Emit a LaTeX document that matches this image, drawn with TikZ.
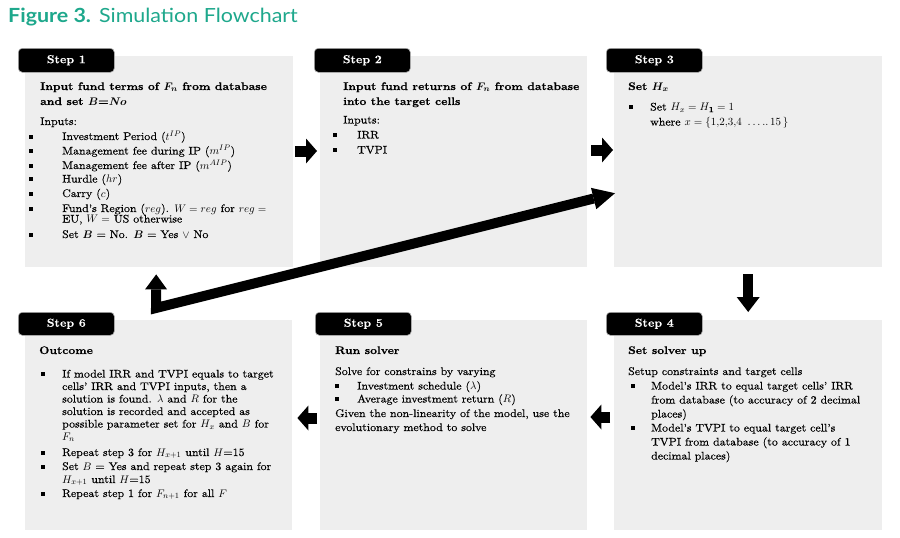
\documentclass[tikz,border=0pt]{standalone}
\usepackage{fontspec}
\setmainfont{Latin Modern Roman}[FakeStretch=1.08, UprightFeatures={FakeBold=0.4}, BoldFeatures={FakeBold=0.3}]
\newfontfamily\titlefont{Lato}[FakeStretch=1.1]
\usetikzlibrary{arrows.meta,calc}
\definecolor{teal1}{RGB}{30,168,140}
\definecolor{boxgray}{RGB}{238,238,238}
\begin{document}
\begin{tikzpicture}[x=1pt,y=-1pt,
  box/.style={fill=boxgray, draw=none, anchor=north west, inner sep=0pt},
  lab/.style={fill=black, draw=gray!60, line width=0.6pt, rounded corners=4pt,
    minimum width=96pt, minimum height=24pt, inner sep=0pt, text=white,
    font=\fontsize{11.5}{11.5}\selectfont\bfseries, anchor=north west},
  txt/.style={anchor=base west, inner sep=0pt, font=\fontsize{11}{11}\selectfont},
  hdg/.style={anchor=base west, inner sep=0pt, font=\fontsize{11}{11}\selectfont\bfseries},
  bul/.style={fill=black, minimum size=3.6pt, inner sep=0pt, yshift=3.3pt},
  blk/.style={line width=11pt, -{Triangle[length=11pt,width=25pt,line width=0pt]}},
  fat/.style={line width=10pt, line join=miter}
]
\fill[white] (0,0) rectangle (900,538);
\useasboundingbox (0,0) rectangle (900,538);

\node[anchor=base west, inner sep=0pt, text=teal1, font=\titlefont\fontsize{19.5}{19.5}\selectfont] (title) at (8,23) {\textbf{Figure 3.}\hspace{8pt}Simulation Flowchart};

% boxes
\node[box, minimum width=268pt, minimum height=211pt] (s1) at (25,56) {};
\node[box, minimum width=267pt, minimum height=211pt] (s2) at (320,56) {};
\node[box, minimum width=268pt, minimum height=211pt] (s3) at (614,56) {};
\node[box, minimum width=267pt, minimum height=210pt] (s6) at (25,320) {};
\node[box, minimum width=267pt, minimum height=210pt] (s5) at (320,320) {};
\node[box, minimum width=268pt, minimum height=210pt] (s4) at (614,320) {};

% labels
\node[lab] (l1) at (18,48) {Step 1};
\node[lab] (l2) at (314,48) {Step 2};
\node[lab] (l3) at (606,48) {Step 3};
\node[lab, minimum height=23pt] (l6) at (18,312) {Step 6};
\node[lab, minimum height=23pt] (l5) at (315,312) {Step 5};
\node[lab, minimum height=23pt] (l4) at (606,312) {Step 4};

% Step 1
\node[hdg] (a1) at (40,90) {Input fund terms of {\boldmath$F_n$} from database};
\node[hdg] (a2) at (40,105) {and set {\boldmath$B$}=\textit{No}};
\node[txt] (a3) at (40,125) {Inputs:};
\node[bul] (ab1) at (31,140) {}; \node[txt] (ai1) at (62,140) {Investment Period ($t^{IP}$)};
\node[bul] (ab2) at (31,154.5) {}; \node[txt] (ai2) at (62,154.5) {Management fee during IP ($m^{IP}$)};
\node[bul] (ab3) at (31,169) {}; \node[txt] (ai3) at (62,169) {Management fee after IP ($m^{AIP}$)};
\node[bul] (ab4) at (31,182.5) {}; \node[txt] (ai4) at (62,182.5) {Hurdle ($hr$)};
\node[bul] (ab5) at (31,197) {}; \node[txt] (ai5) at (62,197) {Carry ($c$)};
\node[bul] (ab6) at (31,212) {}; \node[txt] (ai6) at (62,212) {Fund's Region ($reg$). $W = reg$ for $reg =$};
\node[txt] (ai6b) at (62,222.5) {EU, $W =$ US otherwise};
\node[bul] (ab7) at (31,238) {}; \node[txt] (ai7) at (62,238) {Set {\boldmath$B$} = No. {\boldmath$B$} = Yes $\vee$ No};

% Step 2
\node[hdg] (b1) at (343,90) {Input fund returns of {\boldmath$F_n$} from database};
\node[hdg] (b2) at (343,105) {into the target cells};
\node[txt] (b3) at (343,123.5) {Inputs:};
\node[bul] (bb1) at (335,138.5) {}; \node[txt] (bi1) at (357,138.5) {IRR};
\node[bul] (bb2) at (335,153.5) {}; \node[txt] (bi2) at (357,153.5) {TVPI};

% Step 3
\node[hdg] (c1) at (628,90) {Set {\boldmath$H_x$}};
\node[bul] (cb1) at (631,110.5) {}; \node[txt] (ci1) at (650,110.5) {Set $H_x = H_{\mathbf{1}} = 1$};
\node[txt] (ci2) at (650,125.5) {where $x = \{1{,}2{,}3{,}4\ \ldots{.}{.}\,15\,\}$};

% Step 6
\node[hdg] (f1) at (39,354) {Outcome};
\node[bul] (fb1) at (43,377.5) {}; \node[txt] (fi1) at (62,377.5) {If model IRR and TVPI equals to target};
\node[txt] (fi1b) at (62,390) {cells' IRR and TVPI inputs, then a};
\node[txt] (fi1c) at (62,402.5) {solution is found. $\lambda$ and $R$ for the};
\node[txt] (fi1d) at (62,415) {solution is recorded and accepted as};
\node[txt] (fi1e) at (62,427.5) {possible parameter set for $H_x$ and $B$ for};
\node[txt] (fi1f) at (62,440) {$F_n$};
\node[bul] (fb2) at (43,456) {}; \node[txt] (fi2) at (62,456) {Repeat step 3 for $H_{x+1}$ until $H$=15};
\node[bul] (fb3) at (43,470) {}; \node[txt] (fi3) at (62,470) {Set $B$ = Yes and repeat step 3 again for};
\node[txt] (fi3b) at (62,483) {$H_{x+1}$ until $H$=15};
\node[bul] (fb4) at (43,497) {}; \node[txt] (fi4) at (62,497) {Repeat step 1 for $F_{n+1}$ for all $F$};

% Step 5
\node[hdg] (e1) at (335,354) {Run solver};
\node[txt] (e2) at (335,375) {Solve for constrains by varying};
\node[bul] (eb1) at (337,389.5) {}; \node[txt] (ei1) at (357,389.5) {Investment schedule ($\lambda$)};
\node[bul] (eb2) at (337,402.5) {}; \node[txt] (ei2) at (357,402.5) {Average investment return ($R$)};
\node[txt] (e3) at (335,417) {Given the non-linearity of the model, use the};
\node[txt] (e4) at (335,431) {evolutionary method to solve};

% Step 4
\node[hdg] (d1) at (628,354) {Set solver up};
\node[txt] (d2) at (628,375) {Setup constraints and target cells};
\node[bul] (db1) at (633,389.5) {}; \node[txt] (di1) at (651,389.5) {Model's IRR to equal target cells' IRR};
\node[txt] (di1b) at (651,403.5) {from database (to accuracy of 2 decimal};
\node[txt] (di1c) at (651,417.5) {places)};
\node[bul] (db2) at (633,431.5) {}; \node[txt] (di2) at (651,431.5) {Model's TVPI to equal target cell's};
\node[txt] (di2b) at (651,445.5) {TVPI from database (to accuracy of 1};
\node[txt] (di2c) at (651,459.5) {decimal places)};

% arrows
\draw[blk] ($(s1.east |- 0,151)+(2,0)$) -- ($(s2.west |- 0,151)+(-3,0)$);
\draw[blk] ($(s2.east |- 0,150)+(4,0)$) -- ($(s3.west |- 0,150)+(-1,0)$);
\draw[blk, line width=10pt, -{Triangle[length=15pt,width=23pt,line width=0pt]}] ($(s3.south)+(0,7)$) -- ($(s4.north)+(0,-8)$);
\draw[blk] ($(s4.west |- 0,417)+(-4,0)$) -- ($(s5.east |- 0,417)+(3,0)$);
\draw[blk] ($(s5.west |- 0,418)+(-3,0)$) -- ($(s6.east |- 0,418)+(5,0)$);

\coordinate (hub) at (156,308);
\draw[fat, {Triangle[length=15pt,width=22pt,line width=0pt]}-{Triangle[length=22pt,width=22pt,line width=0pt]}]
  ($(s1.south)+(-3,7)$) -- (hub) -- ($(s3.west)+(1,31.5)$);
\end{tikzpicture}
\end{document}
